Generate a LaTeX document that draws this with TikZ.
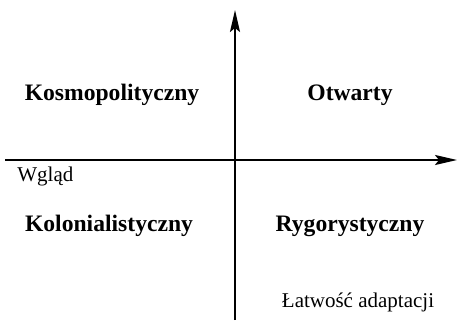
\documentclass[tikz,border=0pt]{standalone}
\usepackage{fontspec}
\setmainfont{Liberation Serif}
\usetikzlibrary{arrows.meta}
\newcommand{\quadName}[1]{\textbf{#1}}

\begin{document}
\begin{tikzpicture}[x=0.5pt,y=-0.5pt,
  axis/.style={line width=1pt, -{Stealth[length=11pt,width=5pt,inset=2pt]}},
  quadlabel/.style={font={\fontsize{11.8}{14}\selectfont}, anchor=base, inner sep=0pt},
  axislabel/.style={font={\fontsize{10.5}{12}\selectfont}, anchor=base, inner sep=0pt}]
\useasboundingbox (0,0) rectangle (458,320);
\coordinate (hStart) at (5,160);
\coordinate (hEnd) at (457,160);
\coordinate (vStart) at (235,320);
\coordinate (vEnd) at (235,10);
\draw[axis] (hStart) -- (hEnd);
\draw[axis] (vStart) -- (vEnd);
\node[quadlabel] (kosmo) at (112,101) {\quadName{Kosmopolityczny}};
\node[quadlabel] (otwarty) at (350,101) {\quadName{Otwarty}};
\node[quadlabel] (kolon) at (109,231) {\quadName{Kolonialistyczny}};
\node[quadlabel] (rygor) at (350,231) {\quadName{Rygorystyczny}};
\node[axislabel, anchor=base west] (wglad) at (17,181) {Wgląd};
\node[axislabel] (latwosc) at (358,307) {Łatwość adaptacji};
\end{tikzpicture}
\end{document}
